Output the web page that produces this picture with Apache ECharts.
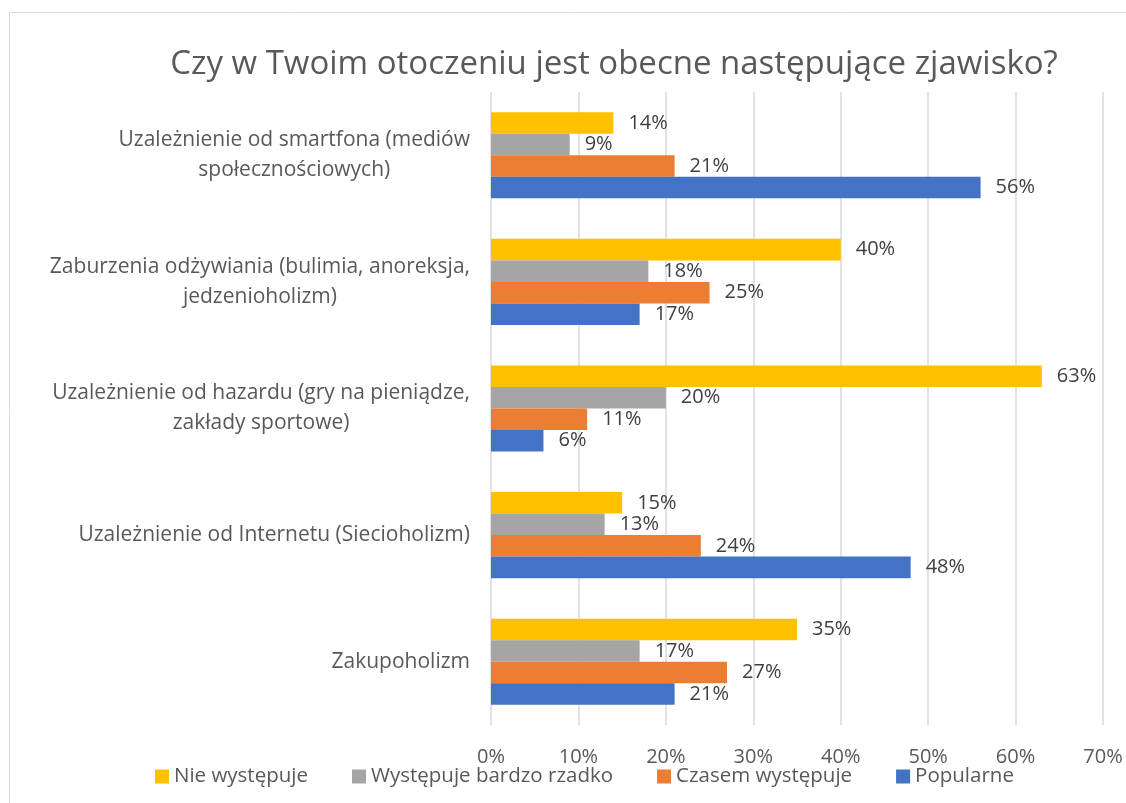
<!DOCTYPE html>
<html>
<head>
<meta charset="utf-8">
<script src="https://cdn.jsdelivr.net/npm/echarts@6/dist/echarts.min.js"></script>
<style>
  html, body { margin: 0; padding: 0; background: #ffffff; }
  #chart { width: 1126px; height: 803px; }
</style>
</head>
<body>
<div id="chart"></div>
<script>
// Categories, top to bottom
const categories = [
  'Uzależnienie od smartfona (mediów\nspołecznościowych)',
  'Zaburzenia odżywiania (bulimia, anoreksja,\njedzenioholizm)',
  'Uzależnienie od hazardu (gry na pieniądze,\nzakłady sportowe)',
  'Uzależnienie od Internetu (Siecioholizm)',
  'Zakupoholizm'
];

const seriesNames = ['Nie występuje', 'Występuje bardzo rzadko', 'Czasem występuje', 'Popularne'];

// Percent values per series, in category order
const nieWystepuje = [14, 40, 63, 15, 35];
const bardzoRzadko = [9, 18, 20, 13, 17];
const czasemWystepuje = [21, 25, 11, 24, 27];
const popularne = [56, 17, 6, 48, 21];

const xTicks = [0, 10, 20, 30, 40, 50, 60, 70];

const colors = ['#FFC000', '#A5A5A5', '#ED7D31', '#4472C4'];
const FONT = '"Open Sans", "DejaVu Sans", sans-serif';

const chart = echarts.init(document.getElementById('chart'), null, { renderer: 'canvas' });

function barSeries(name, values, color) {
  return {
    name: name,
    type: 'bar',
    data: values,
    itemStyle: { color: color },
    barGap: '0%',
    barCategoryGap: '32%',
    label: {
      show: true,
      position: 'right',
      distance: 15,
      formatter: p => p.value + '%',
      color: '#404040',
      fontFamily: FONT,
      fontSize: 20
    }
  };
}

chart.setOption({
  animation: false,
  backgroundColor: '#ffffff',
  color: colors,
  graphic: [{
    type: 'rect',
    shape: { x: 9.5, y: 12.5, width: 1300, height: 900 },
    style: { fill: 'none', stroke: '#d9d9d9', lineWidth: 1 },
    silent: true,
    z: -10
  }],
  title: {
    text: 'Czy w Twoim otoczeniu jest obecne następujące zjawisko?',
    left: 609,
    top: 43,
    textAlign: 'center',
    textStyle: {
      color: '#595959',
      fontFamily: FONT,
      fontSize: 33,
      fontWeight: 'normal'
    }
  },
  legend: {
    data: seriesNames,
    left: 150,
    top: 761,
    itemWidth: 14,
    itemHeight: 14,
    itemGap: 44,
    icon: 'rect',
    textStyle: { color: '#595959', fontFamily: FONT, fontSize: 20.5 }
  },
  grid: { left: 491, right: 23, top: 92, bottom: 78, containLabel: false },
  xAxis: {
    type: 'value',
    min: xTicks[0],
    max: xTicks[xTicks.length - 1],
    interval: 10,
    axisLine: { show: false },
    axisTick: { show: false },
    splitLine: { lineStyle: { color: '#d9d9d9', width: 1.5 } },
    axisLabel: {
      margin: 22,
      color: '#595959',
      fontFamily: FONT,
      fontSize: 20,
      formatter: v => v + '%'
    }
  },
  yAxis: {
    type: 'category',
    data: categories,
    inverse: true,
    axisLine: { show: false },
    axisTick: { show: false },
    axisLabel: {
      margin: 21,
      align: 'right',
      lineHeight: 30,
      formatter: v => '{c|' + v + '}',
      rich: {
        c: {
          align: 'center',
          color: '#595959',
          fontFamily: FONT,
          fontSize: 21,
          lineHeight: 30
        }
      }
    }
  },
  series: [
    barSeries(seriesNames[0], nieWystepuje, colors[0]),
    barSeries(seriesNames[1], bardzoRzadko, colors[1]),
    barSeries(seriesNames[2], czasemWystepuje, colors[2]),
    barSeries(seriesNames[3], popularne, colors[3])
  ]
});
</script>
</body>
</html>
